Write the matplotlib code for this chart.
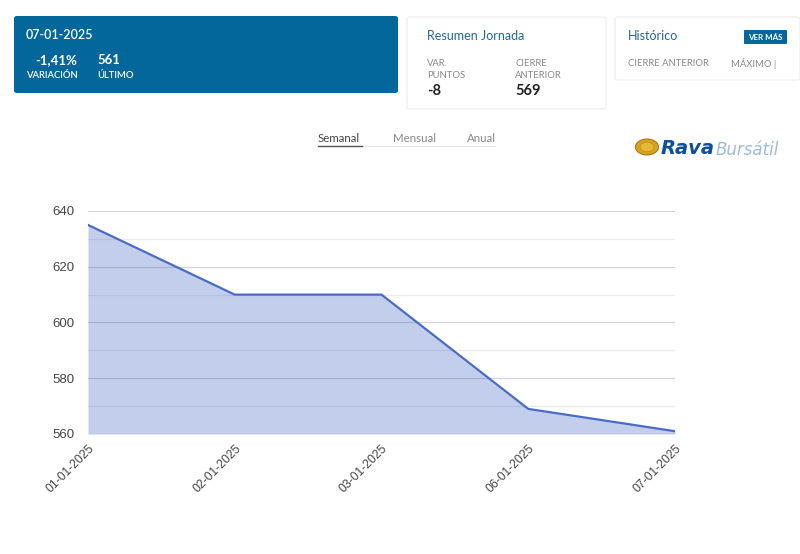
import matplotlib
matplotlib.use("Agg")
import matplotlib.pyplot as plt
from matplotlib.patches import FancyBboxPatch, Circle
from matplotlib.ticker import MultipleLocator

dates = ["01-01-2025", "02-01-2025", "03-01-2025", "06-01-2025", "07-01-2025"]
values = [635, 610, 610, 569, 561]
y_ticks = [560, 580, 600, 620, 640]

W, H = 800, 554
fig = plt.figure(figsize=(W / 100, H / 100), dpi=100)
fig.patch.set_facecolor("white")

UI = ["Lato", "DejaVu Sans"]
BLUE = "#03679b"


def P(x, y):
    return (x / W, 1 - y / H)


def box(x0, y0, x1, y1, fc, ec="none", lw=1, r=3):
    p = FancyBboxPatch(P(x0, y1), (x1 - x0) / W, (y1 - y0) / H,
                       boxstyle=f"round,pad=0,rounding_size={r / W}",
                       transform=fig.transFigure, fc=fc, ec=ec, lw=lw)
    fig.add_artist(p)


def txt(x, y, s, size=8, color="#333", weight="normal", ha="left", style="normal", family=UI):
    fig.text(*P(x, y), s, fontsize=size, color=color, weight=weight, ha=ha,
             va="center", family=family, style=style)


# Card 1 (blue)
box(14, 16, 398, 93, BLUE)
txt(26, 35, "07-01-2025", 9, "white", "semibold")
txt(77, 60, "-1,41%", 9.5, "white", "bold", ha="right")
txt(26, 75, "VARIACIÓN", 6.8, "white", "semibold")
txt(97, 60, "561", 9.5, "white", "bold")
txt(97, 75, "ÚLTIMO", 6.8, "white", "semibold")

# Card 2
box(407, 17, 606, 109, "white", "#ececec", 0.8)
txt(427, 36, "Resumen Jornada", 9, "#1f6a94")
txt(427, 63, "VAR.", 6.8, "#888")
txt(427, 76, "PUNTOS", 6.8, "#888")
txt(427, 91, "-8", 10.5, "#222", "bold")
txt(515, 63, "CIERRE", 6.8, "#888")
txt(515, 76, "ANTERIOR", 6.8, "#888")
txt(515, 91, "569", 10.5, "#222", "bold")

# Card 3
box(615, 17, 800, 80, "white", "#ececec", 0.8)
txt(628, 36, "Histórico", 9, "#1f6a94")
box(744, 30, 787, 44, BLUE, r=1)
txt(765.5, 37, "VER MÁS", 5.8, "white", "bold", ha="center")
txt(628, 63, "CIERRE ANTERIOR", 6.8, "#888")
txt(731, 63, "MÁXIMO |", 6.8, "#888")

# Tabs
txt(318, 138, "Semanal", 8.3, "#444")
txt(393, 138, "Mensual", 8.3, "#888")
txt(467, 138, "Anual", 8.3, "#888")
fig.add_artist(plt.Line2D([318 / W, 495 / W], [1 - 146 / H] * 2, color="#e6e6e6", lw=0.8))
fig.add_artist(plt.Line2D([318 / W, 362 / W], [1 - 146 / H] * 2, color="#555", lw=1.0))

# Logo
fig.add_artist(Circle(P(647, 147), 11.5 / W, transform=fig.transFigure,
                      fc="#d9a51c", ec="#a8790f", lw=0.8))
fig.add_artist(Circle(P(647, 147), 7 / W, transform=fig.transFigure,
                      fc="#e4b93a", ec="#b8891a", lw=0.5))
txt(661, 149, "Rava", 14, "#0d4f9e", "heavy", style="italic", family=["DejaVu Sans"])
txt(716, 150, "Bursátil", 12, "#9dbbe0", style="italic", family=["DejaVu Sans"])

# Chart
ax = fig.add_axes([88 / W, 1 - 434 / H, (675 - 88) / W, (434 - 211) / H])
x = list(range(len(dates)))
ax.fill_between(x, values, y_ticks[0], color="#4a6cc6", alpha=0.33, lw=0, zorder=2)
ax.plot(x, values, color="#4a6cc6", lw=1.6, zorder=3)
ax.set_xlim(x[0], x[-1])
ax.set_ylim(y_ticks[0], y_ticks[-1])
ax.set_yticks(y_ticks)
ax.yaxis.set_minor_locator(MultipleLocator(10))
ax.set_axisbelow(True)
ax.grid(True, which="major", axis="y", color="#d4d4d4", lw=0.9, zorder=1)
ax.grid(True, which="minor", axis="y", color="#ebebeb", lw=0.9, zorder=1)
for sp in ax.spines.values():
    sp.set_visible(False)
ax.set_xticks(x)
ax.set_xticklabels(dates, rotation=45, ha="right", rotation_mode="anchor",
                   family=["Liberation Sans"], fontsize=8.7, color="#444")
ax.tick_params(axis="both", which="both", length=0)
ax.tick_params(axis="x", pad=6)
ax.tick_params(axis="y", pad=10)
for lbl in ax.get_yticklabels():
    lbl.set_family(["Liberation Sans"])
    lbl.set_fontsize(9.5)
    lbl.set_color("#444")
ax.patch.set_alpha(0)

fig.savefig("out.png", dpi=100)
